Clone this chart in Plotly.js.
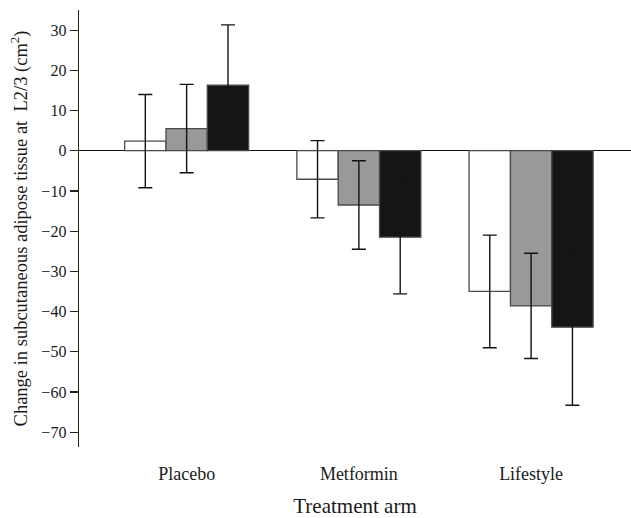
<!DOCTYPE html>
<html>
<head>
<meta charset="utf-8">
<script src="https://cdn.plot.ly/plotly-3.0.1.min.js"></script>
<style>html,body{margin:0;padding:0;background:#fff;}#chart{width:631px;height:518px;}</style>
</head>
<body>
<div id="chart"></div>
<script>
var categories = ["Placebo", "Metformin", "Lifestyle"];
var whiteValues = [2.4, -7.1, -35.0];
var whiteErrors = [11.6, 9.6, 14.0];
var grayValues = [5.5, -13.5, -38.6];
var grayErrors = [11.0, 11.0, 13.1];
var blackValues = [16.3, -21.5, -43.9];
var blackErrors = [15.0, 14.1, 19.4];
var yTicks = [-70, -60, -50, -40, -30, -20, -10, 0, 10, 20, 30];

function mk(vals, errs, fill, errColor) {
  return {
    type: "bar", x: categories, y: vals,
    marker: {color: fill, line: {color: "#4a4a4a", width: 1.3}},
    error_y: {type: "data", array: errs, visible: true, color: errColor, thickness: 1.4, width: 7},
    showlegend: false, hoverinfo: "skip"
  };
}
var data = [
  mk(whiteValues, whiteErrors, "#ffffff", "#111111"),
  mk(grayValues, grayErrors, "#999999", "#111111"),
  mk(blackValues, blackErrors, "#151515", "#151515")
];

var font = {family: "Liberation Serif, Times New Roman, serif", color: "#1a1a1a"};
var layout = {
  width: 631, height: 518,
  margin: {l: 79, r: 0, t: 10, b: 71},
  paper_bgcolor: "#fff", plot_bgcolor: "#fff",
  barmode: "group", bargap: 0.28, bargroupgap: 0,
  font: font,
  xaxis: {
    range: [-0.625, 2.58], showline: false, showgrid: false, zeroline: false,
    ticks: "", ticklabelstandoff: 14,
    tickfont: {family: font.family, size: 18, color: "#1a1a1a"},
    title: {text: "Treatment arm", font: {family: font.family, size: 21, color: "#1a1a1a"}, standoff: 17}
  },
  yaxis: {
    range: [-73.7, 35], showline: true, linecolor: "#222", linewidth: 1.4,
    showgrid: false, zeroline: true, zerolinecolor: "#111", zerolinewidth: 1.4,
    ticks: "outside", ticklen: 8, tickwidth: 1.2, tickcolor: "#222",
    tickvals: yTicks, ticktext: yTicks.map(function(v){return v < 0 ? "\u2212" + Math.abs(v) : String(v);}),
    tickfont: {family: font.family, size: 16, color: "#1a1a1a"},
    title: {text: "Change in subcutaneous adipose tissue at\u00a0\u00a0L2/3 (cm<sup>2</sup>)", font: {family: font.family, size: 18.5, color: "#1a1a1a"}, standoff: 9}
  }
};
Plotly.newPlot("chart", data, layout, {staticPlot: true, displayModeBar: false});
</script>
</body>
</html>
